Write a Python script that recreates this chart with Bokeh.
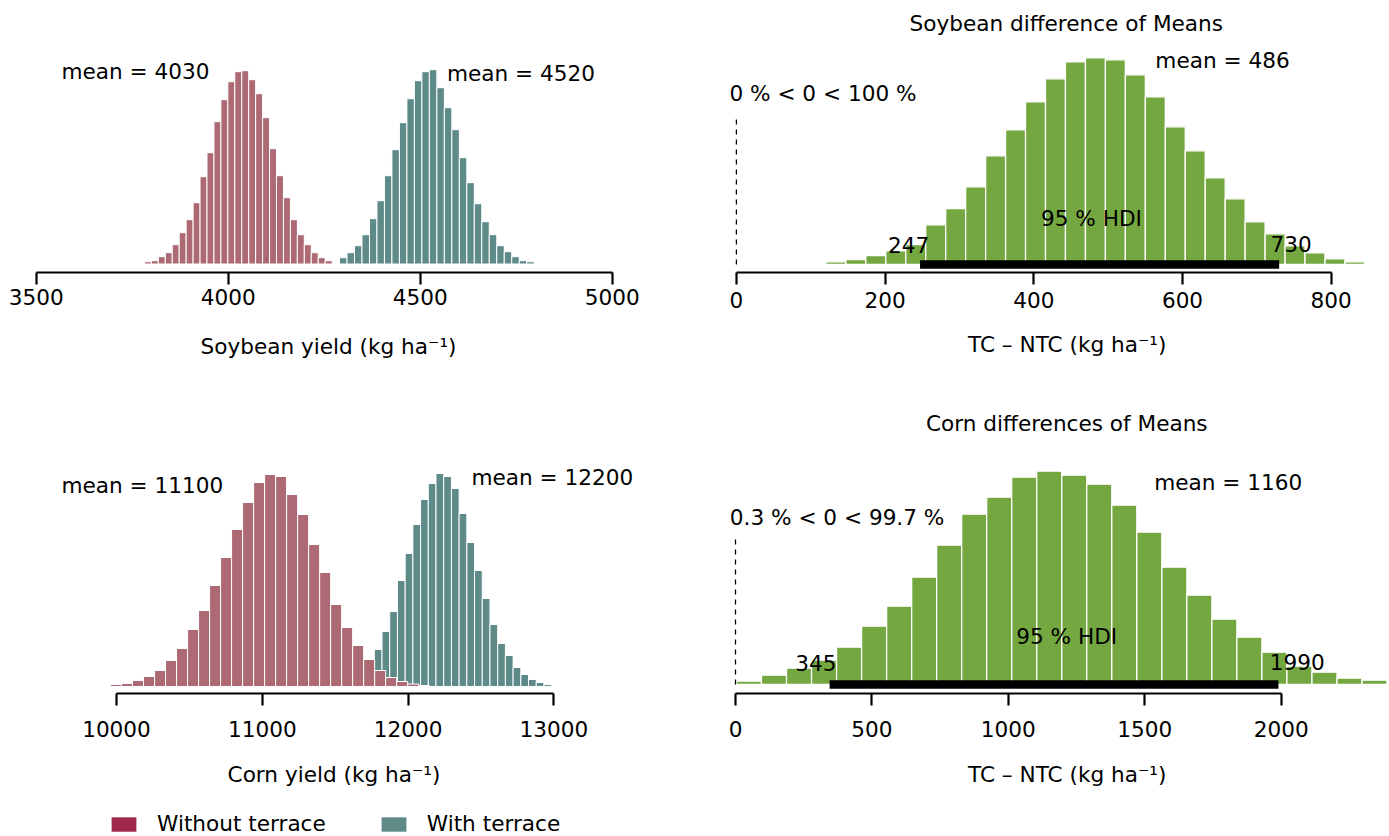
import numpy as np
from bokeh.plotting import figure
from bokeh.models import FixedTicker, Legend, LegendItem, Range1d, Title
from bokeh.layouts import column, row
from bokeh.embed import file_html
from bokeh.resources import INLINE
from bokeh.core.properties import value

FONT = "DejaVu Sans"
FS = "21.6px"
RED_BAR = "#AD6A74"
TEAL_BAR = "#5E8A89"
GREEN_BAR = "#74A740"
RED_LEG = "#A0284A"
TEAL_LEG = "#5F8A88"

# ---------------- data (histograms of posterior samples, relative frequency) ----
soy_ntc_start, soy_ntc_width = 3782.0, 18.1
soy_ntc_heights = [2.3, 3.3, 7.3, 11.3, 19.3, 31.3, 44.3, 61.3, 87.3, 111.3, 142.3, 164.3,
                   182.3, 192.3, 193.3, 184.3, 170.3, 146.3, 115.3, 88.3, 66.3, 44.3, 29.3,
                   19.3, 11.3, 6.3, 3.3]
soy_tc_start, soy_tc_width = 4290.0, 19.5
soy_tc_heights = [6.3, 11.3, 18.3, 29.3, 45.3, 63.3, 88.3, 114.3, 141.3, 165.3, 183.3, 192.3,
                  194.3, 176.3, 156.3, 134.3, 106.3, 81.3, 60.3, 42.3, 29.3, 18.3, 12.3, 7.3,
                  3.3, 2.3]

corn_ntc_start, corn_ntc_width = 9959.0, 75.5
corn_ntc_heights = [2, 3, 6, 10, 16, 26, 38, 57, 76, 101, 129, 157, 184, 204, 212, 210, 192,
                    172, 142, 114, 82, 59, 41, 27, 16, 9, 5, 2.5, 1]
corn_tc_start, corn_tc_width = 11504.0, 52.9
corn_tc_heights = [1, 3, 9, 14, 24, 37, 55, 75, 106, 133, 162, 187, 203, 213, 210, 198, 173,
                   144, 116, 88, 62, 43, 31, 19, 12, 7, 4, 2]

soy_diff_start, soy_diff_width = 120.4, 26.85
soy_diff_heights = [2.7, 5, 9, 13.7, 20, 39.7, 56, 77.7, 108.7, 134.7, 162.7, 185.7, 202.7,
                    206.7, 204.7, 189.7, 167.7, 137.7, 113.7, 86.7, 65.7, 42.7, 30.7, 18.7,
                    11.7, 5.7, 2.7, 1.3]
corn_diff_start, corn_diff_width = -88.0, 91.7
corn_diff_heights = [1.3, 3.3, 9.3, 16.3, 24.3, 37.3, 58.3, 78.3, 107.3, 139.3, 170.3, 187.3,
                     207.3, 213.3, 209.3, 200.3, 179.3, 152.3, 117.3, 89.3, 65.3, 47.3, 32.3,
                     18.3, 12.3, 6.3, 4.3]

soy_means = [4030, 4520]
corn_means = [11100, 12200]
soy_diff_mean, corn_diff_mean = 486, 1160
soy_hdi = [247, 730]
corn_hdi = [345, 1990]
soy_ref_text = "0 % < 0 < 100 %"
corn_ref_text = "0.3 % < 0 < 99.7 %"
ref_val = 0
ref_line_top = 146.5

soy_ticks = [3500, 4000, 4500, 5000]
corn_ticks = [10000, 11000, 12000, 13000]
soy_diff_ticks = [0, 200, 400, 600, 800]
corn_diff_ticks = [0, 500, 1000, 1500, 2000]

legend_labels = ["Without terrace", "With terrace"]

# label anchor positions (data units)
soy_mean_label_x = [3758.7, 4762.6]
soy_mean_label_y = [192.2, 190.8]
corn_mean_label_x = [10177, 12990]
corn_mean_label_y = [201.2, 209.0]


def make_fig(width, height, xr, yr, ticks, mbl, mbr, mbt, mbb, xlabel, lab_standoff, axlab_standoff):
    p = figure(width=width, height=height, x_range=Range1d(*xr), y_range=Range1d(*yr),
               output_backend="svg", toolbar_location=None, y_axis_location=None,
               min_border_left=mbl, min_border_right=mbr, min_border_top=mbt,
               min_border_bottom=mbb)
    p.grid.visible = False
    p.outline_line_color = None
    p.background_fill_color = "white"
    p.border_fill_color = "white"
    ax = p.xaxis[0]
    ax.ticker = FixedTicker(ticks=ticks)
    ax.bounds = (ticks[0], ticks[-1])
    ax.minor_tick_line_color = None
    ax.major_tick_out = 12
    ax.major_tick_in = 0
    ax.axis_line_width = 2.2
    ax.major_tick_line_width = 2.2
    ax.axis_line_color = "black"
    ax.major_tick_line_color = "black"
    ax.major_label_text_font = FONT
    ax.major_label_text_font_size = FS
    ax.major_label_text_color = "black"
    ax.major_label_standoff = lab_standoff
    if xlabel:
        ax.axis_label = xlabel
        ax.axis_label_text_font = FONT
        ax.axis_label_text_font_size = FS
        ax.axis_label_text_font_style = "normal"
        ax.axis_label_text_color = "black"
        ax.axis_label_standoff = axlab_standoff
    return p


def hist(p, start, width, heights, color, lw=1.0):
    edges = start + width * np.arange(len(heights) + 1)
    p.quad(left=edges[:-1], right=edges[1:], bottom=0, top=heights,
           fill_color=color, line_color="white", line_width=lw)


def txt(p, xs, ys, texts, align="center", x_offset=0):
    p.text(x=xs, y=ys, text=texts, text_font=value(FONT), text_font_size=value(FS),
           text_align=align, text_baseline="alphabetic", text_color="black",
           x_offset=x_offset)


# ---------------- top-left: soybean yields ----------------
tl = make_fig(700, 400, (3448.8, 5073.8), (-8.5, 223.5), soy_ticks, 16, 60, 40, 128,
              "Soybean yield (kg ha\u207b\u00b9)", 4, 26)
hist(tl, soy_ntc_start, soy_ntc_width, soy_ntc_heights, RED_BAR)
hist(tl, soy_tc_start, soy_tc_width, soy_tc_heights, TEAL_BAR)
txt(tl, soy_mean_label_x, soy_mean_label_y, [f"mean = {m}" for m in soy_means])

# ---------------- bottom-left: corn yields ----------------
bl = make_fig(700, 410, (9314.0, 13670.0), (-7.0, 246.0), corn_ticks, 16, 49, 40, 117,
              "Corn yield (kg ha\u207b\u00b9)", 15, 22)
hist(bl, corn_tc_start, corn_tc_width, corn_tc_heights, TEAL_BAR)
hist(bl, corn_ntc_start, corn_ntc_width, corn_ntc_heights, RED_BAR)
txt(bl, corn_mean_label_x, corn_mean_label_y, [f"mean = {m}" for m in corn_means])


def diff_panel(height, xr, yr, ticks, mbt, mbb, lab_standoff, xlabel_standoff, title,
               title_offset, xlabel_offset, start, width, heights, mean, mean_xy, hdi,
               hdi_label_y, hdi_text_xy, ref_text, ref_text_xy, hdi_offsets):
    p = make_fig(689, height, xr, yr, ticks, 4, 0, mbt, mbb, None, lab_standoff, 0)
    p.title.text = title
    p.title.align = "left"
    p.title.offset = title_offset
    p.title.text_font = FONT
    p.title.text_font_size = FS
    p.title.text_font_style = "normal"
    p.title.text_color = "black"
    p.add_layout(Title(text="TC \u2013 NTC (kg ha\u207b\u00b9)", align="left",
                       offset=xlabel_offset, standoff=xlabel_standoff, text_font=FONT,
                       text_font_size=FS, text_font_style="normal", text_color="black"),
                 "below")
    hist(p, start, width, heights, GREEN_BAR, lw=1.3)
    p.segment(x0=[hdi[0]], y0=[0], x1=[hdi[1]], y1=[0], line_color="black",
              line_width=8.4, line_cap="butt")
    p.segment(x0=[ref_val], y0=[0], x1=[ref_val], y1=[ref_line_top], line_color="black",
              line_width=1.3, line_dash="5 5")
    txt(p, [mean_xy[0]], [mean_xy[1]], [f"mean = {mean}"])
    txt(p, [hdi_text_xy[0]], [hdi_text_xy[1]], ["95 % HDI"])
    txt(p, [hdi[0]], [hdi_label_y[0]], [str(hdi[0])], align="right", x_offset=hdi_offsets[0])
    txt(p, [hdi[1]], [hdi_label_y[1]], [str(hdi[1])], align="left", x_offset=hdi_offsets[1])
    txt(p, [ref_text_xy[0]], [ref_text_xy[1]], [ref_text], align="left")
    return p


tr = diff_panel(400, (-42.9, 878.4), (-8.0, 224.0), soy_diff_ticks, 40, 128, 7, 38,
                "Soybean difference of Means", 205, 263.5, soy_diff_start, soy_diff_width,
                soy_diff_heights, soy_diff_mean, (653.8, 203.7), soy_hdi, (19.7, 21.0),
                (477.6, 45.7), soy_ref_text, (-9.4, 171.3), (9.2, -8.6))
br = diff_panel(410, (-113.6, 2397.0), (-9.0, 244.0), corn_diff_ticks, 40, 117, 15, 40,
                "Corn differences of Means", 221.5, 263.5, corn_diff_start, corn_diff_width,
                corn_diff_heights, corn_diff_mean, (1806, 202.3), corn_hdi, (21.3, 22.3),
                (1213.8, 48.0), corn_ref_text, (-20.9, 167.0), (6.9, -8.7))

# ---------------- legend strip ----------------
lg = figure(width=700, height=26, output_backend="svg", toolbar_location=None,
            x_axis_location=None, y_axis_location=None, min_border=0,
            x_range=Range1d(0, 1), y_range=Range1d(0, 1))
lg.grid.visible = False
lg.outline_line_color = None
nan = np.array([np.nan])
r1 = lg.quad(left=nan, right=nan, bottom=nan, top=nan, fill_color=RED_LEG, line_color=None)
r2 = lg.quad(left=nan, right=nan, bottom=nan, top=nan, fill_color=TEAL_LEG, line_color=None)
legend = Legend(items=[LegendItem(label=legend_labels[0], renderers=[r1]),
                       LegendItem(label=legend_labels[1], renderers=[r2])],
                orientation="horizontal", location=(108, 0), glyph_width=31, glyph_height=18,
                label_standoff=18, spacing=52, padding=0, margin=0, border_line_color=None,
                background_fill_alpha=0, label_text_font=FONT, label_text_font_size=FS,
                label_text_color="black", label_height=18)
lg.add_layout(legend)

layout = column(row(tl, tr), row(bl, br), lg)
open("out.html", "w").write(file_html(layout, INLINE))
